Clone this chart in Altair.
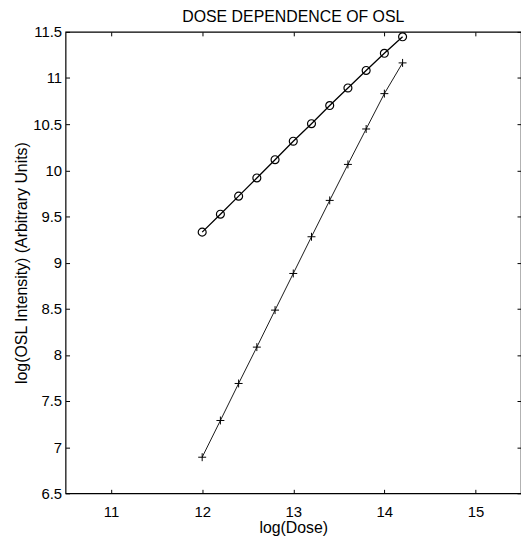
import altair as alt
import pandas as pd

dose = [12.0, 12.2, 12.4, 12.6, 12.8, 13.0, 13.2, 13.4, 13.6, 13.8, 14.0, 14.2]
osl_circle = [9.33, 9.524, 9.72, 9.917, 10.115, 10.315, 10.505, 10.702, 10.892, 11.082, 11.268, 11.447]
osl_plus = [6.891, 7.289, 7.69, 8.084, 8.485, 8.882, 9.28, 9.674, 10.064, 10.448, 10.831, 11.164]

x_ticks = [11, 12, 13, 14, 15]
y_ticks = [6.5, 7, 7.5, 8, 8.5, 9, 9.5, 10, 10.5, 11, 11.5]

df_c = pd.DataFrame({"dose": dose, "osl": osl_circle})
df_p = pd.DataFrame({"dose": dose, "osl": osl_plus})

FONT = "Liberation Sans"
xs = alt.Scale(domain=[10.5, 15.5], nice=False, zero=False)
ys = alt.Scale(domain=[6.5, 11.5], nice=False, zero=False)

x_bottom = alt.X("dose:Q", scale=xs, title="log(Dose)",
                 axis=alt.Axis(orient="bottom", values=x_ticks, offset=-4, tickSize=4,
                               labelPadding=11, titlePadding=1, domain=False, grid=False,
                               labelExpr="datum.value + ''"))
y_left = alt.Y("osl:Q", scale=ys, title="log(OSL Intensity) (Arbitrary Units)",
               axis=alt.Axis(orient="left", values=y_ticks, offset=-4, tickSize=4,
                             labelPadding=4, titlePadding=3, domain=False, grid=False,
                             labelExpr="datum.value + ''"))

line_c = alt.Chart(df_c).mark_line(color="black", strokeWidth=1.3).encode(x=x_bottom, y=y_left)
pts_c = alt.Chart(df_c).mark_point(shape="circle", filled=False, color="black",
                                   size=64, strokeWidth=1.2, opacity=1).encode(x=x_bottom, y=y_left)
line_p = alt.Chart(df_p).mark_line(color="black", strokeWidth=0.9).encode(x=x_bottom, y=y_left)
pts_p = alt.Chart(df_p).mark_point(shape="M-1,0L1,0M0,-1L0,1", filled=False, color="black",
                                   size=64, strokeWidth=1, opacity=1).encode(x=x_bottom, y=y_left)

base = alt.layer(line_c, pts_c, line_p, pts_p)

x_top = alt.X("dose:Q", scale=xs, title=None,
              axis=alt.Axis(orient="top", values=x_ticks, offset=-4, tickSize=4,
                            labels=False, domain=False, grid=False))
y_right = alt.Y("osl:Q", scale=ys, title=None,
                axis=alt.Axis(orient="right", values=y_ticks, offset=-4, tickSize=4,
                              labels=False, domain=False, grid=False))
frame_axes = alt.Chart(df_c).mark_line(opacity=0).encode(x=x_top, y=y_right)

chart = alt.layer(base, frame_axes).resolve_axis(x="independent", y="independent").properties(
    width=459, height=465,
    title=alt.TitleParams("DOSE DEPENDENCE OF OSL", fontSize=16, font=FONT,
                          fontWeight="normal", color="black", offset=0,
                          anchor="middle", frame="group"),
    autosize=alt.AutoSizeParams(type="none"),
    padding={"left": 58, "top": 22, "right": 0, "bottom": 46},
).configure_view(stroke="black", strokeWidth=1.2).configure_axis(
    labelFont=FONT, titleFont=FONT, labelFontSize=15, titleFontSize=16,
    labelColor="black", titleColor="black", tickColor="black", titleFontWeight="normal",
    tickWidth=1
)

chart.save("out.html", embed_options={"renderer": "svg", "actions": False})
